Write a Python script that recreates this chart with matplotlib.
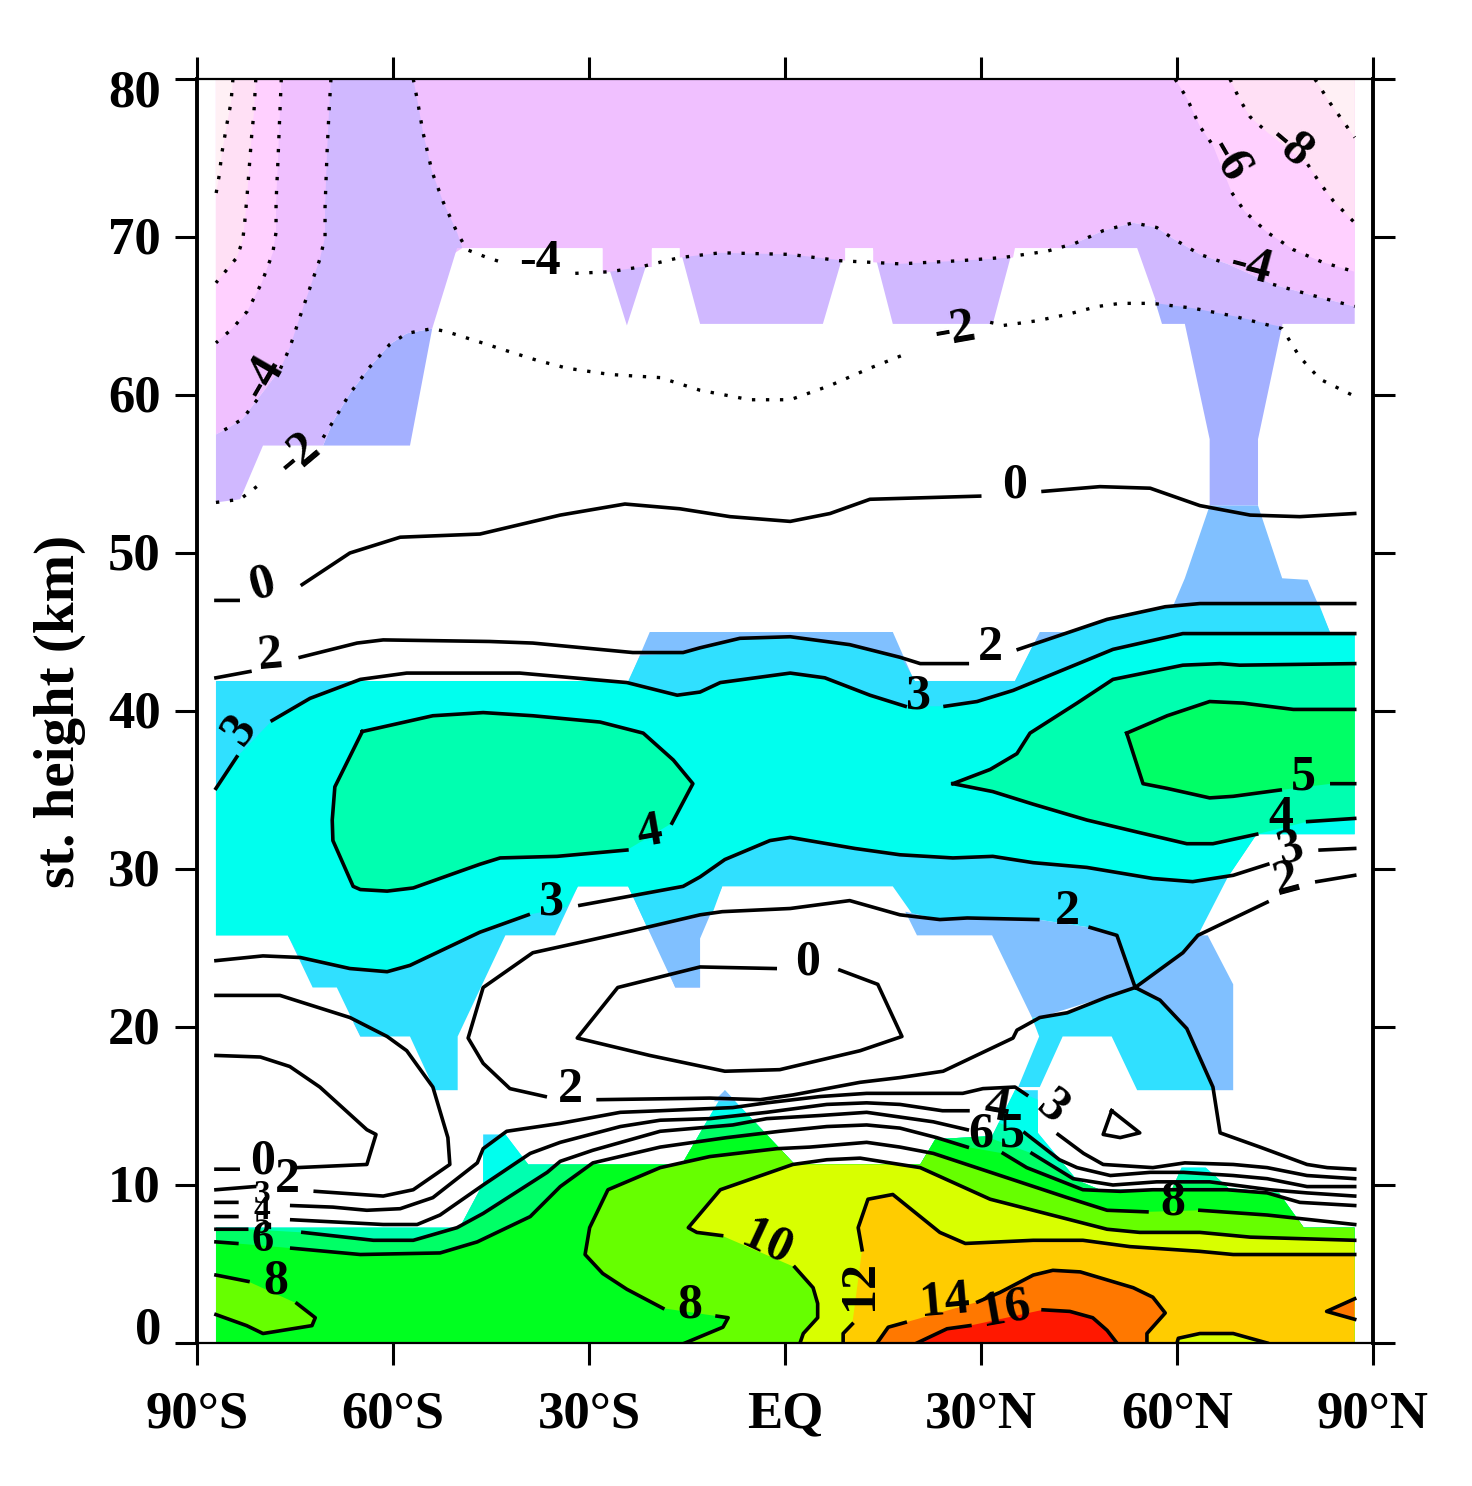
import numpy as np
import matplotlib
matplotlib.use("Agg")
import matplotlib.pyplot as plt
from matplotlib.patches import Polygon
from matplotlib.transforms import ScaledTranslation

nan = float("nan")
GAP = (nan, nan)
W, E = -87.1, 87.2

# ---------- axis content ----------
lat_ticks = [-90, -60, -30, 0, 30, 60, 90]
lat_labels = ["90°S", "60°S", "30°S", "EQ", "30°N", "60°N", "90°N"]
km_ticks = [0, 10, 20, 30, 40, 50, 60, 70, 80]

# ---------- isolines: (latitude, km) ----------
neg10_l = [(-84.5,80),(-84.8,78.5),(-85.4,77.2),(-86.2,75.3),(-86.6,73.9),(W,72.7)]
neg8_l = [(-81.0,80),(-81.3,77.8),(-81.6,76.6),(-82.0,74.4),(-82.3,72.8),(-82.7,70.9),(-83.0,69.8),(-83.9,68.7),(W,67.1)]
neg6_l = [(-77.1,80),(-77.4,77),(-77.6,74.9),(-77.9,72.2),(-77.9,70.3),(-78.4,69),(-80.1,67.1),(-82.3,65.3),(-84.6,64.2),(W,63.3)]
neg4_l = [(-69.5,80),(-69.8,77.9),(-70.1,75.3),(-70.4,71.9),(-70.4,70),(-71.2,68.6),(-72.7,66.8),(-74.2,65),(-75.8,63),(-77.3,61.6),GAP,
          (-80.8,59.7),(-83,58.5),(-84.9,58),(W,57.5)]
neg4_main = [(-56.9,80),(-56.2,78.5),(-55.4,76.6),(-54,74.1),(-52.3,72.2),(-50.2,70.3),(-48.7,69.2),(-45.6,68.7),(-42.6,68.3),GAP,
             (-32.1,67.7),(-26.8,67.8),(-22.2,68.1),(-16.1,68.7),(-9.9,69),(0.8,68.9),(8.4,68.5),(17.6,68.3),(26.8,68.5),(33.4,68.7),
             (40.1,69.1),(44.4,69.6),(48.7,70.4),(53.3,70.9),(56.9,70.6),(59.4,69.9),(63.5,68.9),(67.7,68.3),GAP,
             (74.7,67),(80.8,66.3),(E,65.6)]
neg2_main = [(W,53.2),(-83.4,53.4),(-79.6,54.6),GAP,
             (-70.7,57.3),(-69.2,58.3),(-66.6,60.1),(-63.5,61.8),(-60.5,63.2),(-57.9,63.9),(-54,64.2),(-51.7,64),(-47.1,63.4),(-42.6,62.8),
             (-38,62.2),(-33.4,61.7),(-26.8,61.3),(-19.1,61.1),(-13,60.3),(-5.4,59.7),(0.8,59.7),(6.9,60.6),(13,61.7),(19.1,62.7),GAP,
             (31.4,64.6),(33.4,64.4),(38.6,64.7),(43.2,65.1),(47.8,65.6),(51.3,65.8),(56.2,65.8),(62.4,65.5),(68.6,65),(76.1,64.2),
             (78.8,62.4),(81.9,61),(86.8,60)]
neg6_r = [(59.7,80),(61.5,78.8),(63.5,77),(65.5,75.8),GAP,(68.4,72.8),(70.4,71.6),(73.8,70.3),(77.8,69.2),(82.3,68.4),(E,67.8)]
neg8_r = [(68.1,80),(69.6,78.7),(71.2,77.6),(73.9,76.6),GAP,(80,74.6),(81.9,73.4),(83.9,72.3),(E,70.9)]
neg10_r = [(81.1,80),(83.4,78.5),(E,76.3)]

zero_top = [(W,47),(-83.7,47),GAP,(-73.9,48),(-66.6,50),(-58.9,51),(-46.7,51.2),(-34.4,52.4),(-24.5,53.1),(-16.1,52.8),(-8.4,52.3),(0.8,52),
            (6.9,52.5),(13,53.4),(29.8,53.6),GAP,(39.5,53.9),(48.2,54.2),(55.9,54.1),(63.5,53),(71.2,52.4),(78.8,52.3),(E,52.5)]
two_top = [(W,42.1),(-81.9,42.5),GAP,(-74.2,43.4),(-65.5,44.3),(-61.5,44.5),(-45.2,44.4),(-38.6,44.3),(-23.3,43.7),(-15.6,43.7),(-13,44),
           (-6.9,44.6),(0.8,44.7),(9.9,44.2),(17.6,43.4),(20.7,43),(27.9,43),GAP,(35.7,43.9),(49.3,45.8),(58.2,46.6),(63.5,46.8),(E,46.8)]
three_top = [(W,35.1),(-83.9,37.1),GAP,(-78.5,39.4),(-72.7,40.8),(-65,42),(-57.9,42.4),(-40.6,42.4),(-24.2,41.8),(-16.5,41),(-13,41.2),(-9.9,41.8),
             (0.8,42.4),(6.1,42.1),(13,41),(18.4,40.3),GAP,(24.5,40.3),(29.4,40.6),(34.9,41.3),(50.2,43.9),(60.9,44.9),(80.8,44.9),(E,44.9)]
four_left = [(-64.7,38.7),(-53.9,39.7),(-46.2,39.9),(-38.6,39.7),(-28.3,39.3),(-21.7,38.6),(-17.1,36.9),(-14.1,35.4),(-17.3,32.9),GAP,
             (-24.2,31.2),(-34.9,30.8),(-43.6,30.7),(-46.7,30.3),(-50.8,29.7),(-56.9,28.8),(-60.9,28.6),(-65,28.7),(-66.1,28.9),(-69.2,31.8),
             (-69.3,33.1),(-68.9,35.2),(-64.7,38.7)]
four_right_up = [(25.7,35.4),(31.4,36.3),(35.5,37.3),(37.5,38.6),(44.7,40.5),(50.2,42),(60.9,42.9),(66.6,43),(69.6,42.9),(E,43)]
four_right_lo = [(25.7,35.4),(31.8,34.9),(38,34.1),(46.2,33.1),(54.3,32.3),(61.5,31.6),(65.5,31.6),(72.2,32.2),GAP,(80,33),(E,33.2)]
five_right_up = [(52.3,38.6),(58.5,39.7),(65,40.6),(70.1,40.5),(77.8,40.1),(E,40.1)]
five_right_lo = [(52.3,38.6),(54.8,35.4),(58.5,35.1),(65,34.5),(68.6,34.6),(75.8,35),GAP,(83.7,35.4),(E,35.4)]
three_mid = [(W,24.2),(-79.9,24.5),(-74.2,24.4),(-66.6,23.7),(-60.9,23.5),(-57.4,23.9),(-46.7,26),(-39.3,27.1),GAP,
             (-31.4,27.7),(-15.6,28.9),(-13,29.5),(-9.2,30.6),(-2.3,31.8),(0.8,32),(10.7,31.3),(17.6,30.9),(25.7,30.7),(31.8,30.8),(38,30.4),
             (46.2,30.1),(56.3,29.4),(62.4,29.2),(68.6,29.6),(73.9,30.3),GAP,(81.9,31.2),(E,31.3)]
two_a = [(E,29.6),(81.4,29.2),GAP,(73.8,27.9),(63.2,25.8),(60.9,24.7),(53.6,22.5),(49.3,21.9),(43.2,20.9),(39,20.6),(35.5,19.8),(34.9,19.3),
         (24.2,17.2),(17.6,16.8),(11.5,16.5),(1.2,15.7),(-3.8,15.4),(-11.5,15.5),(-28.6,15.4),GAP,
         (-36.7,15.6),(-42.1,16.1),(-46.2,17.7),(-48.5,19.3),(-46.2,22.5),(-38.6,24.7),(-30.9,25.4),(-23.3,26.1),(-13,27.1),(-9.6,27.3),
         (0.8,27.5),(9.9,28),(17.6,27.1),(23.7,26.8),(27.9,26.9),(38.7,26.8),GAP,
         (46.7,26.3),(50.8,25.8),(53.6,22.5),(57.4,21.7),(61.5,19.9),(65.5,16.2),(66.6,13.3),(72.7,12.4),(79.9,11.3),(83,11.1),(E,11)]
zero_inner = [(8.4,23.6),(14.2,22.7),(17.9,19.4),(11.5,18.5),(-0.8,17.3),(-9.2,17.2),(-20.7,18.2),(-31.8,19.3),(-25.6,22.5),(-13,23.8),(-1.5,23.7)]
zero_left = [(W,18.2),(-80.3,18.1),(-75.8,17.5),(-71.2,16.2),(-64,13.5),(-62.6,13.2),(-64,11.3),(-74.7,11.1),GAP,(-83.7,11),(W,11)]
two_left = [(W,22),(-77.3,22),(-66.6,20.6),(-60.9,19.4),(-57.9,18.5),(-53.9,16.2),(-51.6,13),(-51.3,11.3),(-56.9,9.7),(-61.5,9.3),(-71.9,9.6),GAP,
            (-81.2,9.9),(W,9.7)]
three_low = [(W,8.9),(-83.9,8.9),GAP,(-75.5,8.7),(-69.2,8.6),(-64,8.4),(-58.9,8.5),(-53.9,9.2),(-47.1,11.4),(-46.2,12.3),(-42.6,13.4),(-34.4,13.9),
             (-25.2,14.6),(-19.1,14.7),(-8,14.9),(-2.8,15.2),(5.4,15.6),(12.5,15.8),(17.6,15.8),(27.2,15.8),(30.3,16.1),(35.2,16.2),(37,15.7),GAP,
             (41.8,13.2),(45.7,12),(48.7,11.3),(56.3,11.1),(61.2,11.4),(68.6,11.3),(73.8,11.1),(79.9,10.6),(E,10.4)]
four_low = [(W,8),(-83.9,8),GAP,(-75.5,7.8),(-66.1,7.6),(-61.5,7.5),(-56.3,7.5),(-52.8,8.1),(-46.2,10),(-39,12),(-34.4,12.7),(-25.2,13.7),(-19.1,14.1),
            (-11.5,14.2),(-2.8,14.6),(6.4,15.1),(12.5,15.2),(17.6,15.1),(24.1,14.7),(28,14.7),GAP,
            (36.7,13.3),(42,11.6),(44.7,11.1),(49.8,10.6),(55.9,10.8),(61,10.8),(68.6,10.6),(73.8,10.4),(79.9,9.9),(E,9.9)]
five_low = [(W,7.2),(-82.4,7.2),GAP,(-73.8,7),(-63,6.5),(-56.9,6.5),(-50.2,7.3),(-46.2,8.2),(-36.4,10.8),(-34.4,11.5),(-29.4,12.2),(-19.1,13.4),(-8,13.8),
            (-2.8,14.2),(5.4,14.4),(12.5,14.6),(17.6,14.3),(22.7,14),(27.9,13.5),GAP,
            (37.8,12),(44.1,10.4),(50.2,10),(56.9,10.2),(65,10.2),(74.2,9.7),(79.9,9.5),(E,9.3)]
six_low = [(W,6.4),(-83.9,6.3),GAP,(-75.5,6),(-65,5.6),(-52.8,5.7),(-47.1,6.4),(-39,8),(-34.4,9.9),(-29.4,11.4),(-19.1,12.4),(-8.9,13),(-0.8,13.4),
           (6.4,13.7),(12.5,13.8),(17.6,13.6),(23.2,13),(27.9,12.4),GAP,
           (33.4,12),(37,11.1),(45.6,9.7),(51.3,9.6),(56.3,9.7),(67.6,9.7),(73.8,9.5),(78.8,8.9),(E,8.7)]
eight_left = [(W,4.3),(-82.2,3.9),GAP,(-74.7,2.5),(-71.9,1.6),(-72.4,1.1),(-79.9,0.6),(-82.4,1.1),(W,1.8)]
eight_main = [(-15.3,0),(-9.5,1),(-8.7,1.6),(-10.4,1.7),GAP,(-18.7,2.2),(-24.2,3.4),(-27.9,4.4),(-30.6,5.6),(-29.9,7.3),(-27.1,9.7),(-19.1,11.1),(-11.5,11.8),
              (-1.2,12.3),(3.8,12.4),(12.5,12.7),(17.6,12.4),(22.7,12),(43.2,9.2),(49.3,8.4),(55.4,8.3),GAP,(63.5,8.4),(73.8,8.1),(E,7.5)]
ten_main = [(2.3,0),(2.8,0.6),(5,1.6),(5,2.5),(4.3,3.5),(1.5,4.8),GAP,(-9.7,6.8),(-13.5,7),(-14.8,7.3),(-9.9,9.7),(1.2,11.3),(6.4,11.6),(11.5,11.7),
            (17.6,11.3),(20.7,11.1),(31.4,9.1),(49.3,7.2),(54.3,7),(63.5,7),(71.2,6.7),(E,6.5)]
twelve_main = [(8.9,0),(8.9,0.6),(10.3,1.2),GAP,(11.8,5.9),(11.2,7.3),(12.7,9.1),(16.5,9.4),(23.7,7),(27.6,6.3),(38,6.5),(45.6,6.5),(52.8,6.1),(63.5,5.8),(68.6,5.6),(E,5.6)]
fourteen_main = [(14.1,0),(15.8,1),(18.4,1.3),GAP,(29.5,2.6),(32.9,3.2),(38,4.3),(41,4.6),(45.2,4.5),(53.3,3.5),(56.3,2.9),(58.2,1.9),(55.4,0.6),(55.4,0)]
sixteen_main = [(20.2,0),(24.8,0.9),(28.3,1.1),GAP,(39.5,2.1),(43.6,2),(47.1,1.6),(49.3,0.8),(50.8,0)]
twelve_inner = [(60,0),(60.2,0.3),(63.5,0.6),(68.6,0.6),(73.8,0)]
fourteen_edge = [(E,2.8),(82.9,2),(E,1.5)]
three_island = [(50,14.7),(54.3,13.3),(51.3,13),(48.7,13.2),(50,14.7)]

dotted_lines = [neg10_l, neg8_l, neg6_l, neg4_l, neg4_main, neg2_main, neg6_r, neg8_r, neg10_r]
solid_lines = [zero_top, two_top, three_top, four_left, four_right_up, four_right_lo, five_right_up, five_right_lo,
               three_mid, two_a, zero_inner, zero_left, two_left, three_low, four_low, five_low, six_low,
               eight_left, eight_main, ten_main, twelve_main, fourteen_main, sixteen_main, twelve_inner,
               fourteen_edge, three_island]

# ---------- shaded areas: (latitude, km) ----------
pink_main = [(W,80),(E,80),(E,65.6),(80.8,66.3),(74.7,67),(67.7,68.3),(63.5,68.9),(59.4,69.9),(56.9,70.6),(53.3,70.9),(48.7,70.4),(44.4,69.6),(42.1,69.3),
             (35.2,69.3),(34.9,68.7),(26.8,68.5),(17.6,68.3),(13.5,68.4),(13.5,69.3),(9.2,69.3),(9.2,68.5),(0.8,68.9),(-9.9,69),(-16.1,68.7),(-16.1,69.3),
             (-20.4,69.3),(-20.4,68.1),(-22.2,68.1),(-26.8,67.8),(-27.9,67.7),(-27.9,69.3),(-49.4,69.3),(-77.3,61.6),(-80.8,59.7),(-83,58.5),(-84.9,58),(W,57.5)]
purple_left = [(-69.5,80),(-56.9,80),(-56.2,78.5),(-55.4,76.6),(-54,74.1),(-52.3,72.2),(-50.2,70.3),(-49.4,69.3),(-50.2,69.3),(-54,64.2),(-57.9,63.9),(-60.5,63.2),
               (-63.5,61.8),(-66.6,60.1),(-69.2,58.3),(-70.7,56.8),(-79.9,56.8),(-83.4,53.4),(W,53.2),(W,57.5),(-84.9,58),(-83,58.5),(-80.8,59.7),(-77.3,61.6),
               (-75.8,63),(-74.2,65),(-72.7,66.8),(-71.2,68.6),(-70.4,70),(-70.4,71.9),(-70.1,75.3),(-69.8,77.9)]
purple_right = [(53.9,69.3),(56.9,65.8),(62.4,65.5),(68.6,65),(76.1,64.3),(76.1,64.5),(E,64.5),(E,65.6),(80.8,66.3),(74.7,67),(67.7,68.3),(63.5,68.9),(59.4,69.9),
                (56.9,70.6),(53.3,70.9),(48.7,70.4),(44.4,69.6),(42.1,69.3)]
purple_tri = [(-27.9,69.3),(-24.2,64.4),(-20.4,69.3)]
purple_trap1 = [(-16.1,69.3),(-13,64.5),(5.8,64.5),(9.2,69.3)]
purple_trap2 = [(13.5,69.3),(16.5,64.5),(31.8,64.5),(34.9,69.3)]
periwinkle_left = [(-70.7,56.8),(-69.2,58.3),(-66.6,60.1),(-63.5,61.8),(-60.5,63.2),(-57.9,63.9),(-54,64.2),(-57.4,56.8)]
periwinkle_funnel = [(56.6,66),(57.7,64.5),(61.2,64.5),(65,57.2),(65,53),(72.4,53),(72.4,57.2),(76.1,64.4),(76.1,66)]
periwinkle_small = [(-17.6,23.3),(-13,23.7),(-13,22.5),(-16.8,22.5)]
sky_a = [(-24,41.8),(-20.7,45),(16.5,45),(19.9,41.8)]
sky_b = [(35.2,41.9),(39,45),(57.7,45),(61.2,48.4),(65,53),(72.4,53),(76.1,48.4),(80,48.3),(83.4,45)]
sky_c = [(18.4,27.3),(20.2,25.8),(31.7,25.8),(37.8,20.6),(39,20.6),(53.6,22.5),(50.8,25.8),(46.7,26.3),(38.7,26.8),(27.9,26.9),(23.7,26.8)]
sky_d = [(53.6,22.5),(60.9,24.7),(63.2,25.8),(64.7,25.8),(68.6,22.7),(68.6,16),(65.8,16),(61.5,19.9),(57.4,21.7)]
sky_e = [(-66.1,20.3),(-65,19.4),(-60.9,19.4)]
sky_f = [(-24,28.9),(-16.8,22.5),(-13,22.5),(-13,25.6),(-9.6,28.9)]
sky_apex = [(-9.2,16),(-10.9,15.3),(-7.6,15.3)]
azure_main = [(W,41.9),(-24,41.9),(-22.2,43.5),(-15.6,43.7),(-13,44),(-6.9,44.6),(0.8,44.7),(9.9,44.2),(17.8,43.4),(19.9,41.9),(35.2,41.9),(38,44.2),(49.3,45.8),
              (58.2,46.6),(63.5,46.8),(81.7,46.8),(83.4,45),(E,45),(E,32.2),(72.2,32.2),(67.8,29.5),(63.2,25.8),(60.9,24.7),(53.6,22.5),(50.8,25.8),(46.7,26.3),
              (38.7,26.8),(27.9,26.9),(23.7,26.8),(19.4,27.2),(16.5,28.9),(-9.6,28.9),(-11.1,27.2),(-13,27.1),(-21.1,26.3),(-24,28.9),(-31.7,28.9),(-35.2,25.8),
              (-42.8,25.8),(-50.1,19.4),(-50.1,16),(-53.6,16),(-57.4,19.4),(-65,19.4),(-68.6,22.5),(-72.3,22.5),(-76.1,25.8),(W,25.8)]
azure_low = [(53.6,22.5),(57.4,21.7),(61.5,19.9),(65.5,16.2),(65.8,16),(53.9,16),(50,19.4),(42.5,19.4),(39,16.2),(35.7,16.2),(38.9,19.4),(37.8,20.6),(39,20.6),
             (43.2,20.9),(49.3,21.9)]
cyan_main = [(W,35.1),(-83.9,37.1),(-78.5,39.4),(-72.7,40.8),(-65,41.9),(-24.2,41.9),(-16.5,41),(-13,41.2),(-9.9,41.8),(0.8,42.4),(6.1,42.1),(13,41),(18.4,40.3),(24.5,40.3),
             (29.4,40.6),(34.9,41.3),(50.2,43.9),(60.9,44.9),(E,44.9),(E,32.2),(72.2,32.2),(67.8,29.5),(62.4,29.2),(56.3,29.4),(46.2,30.1),(38,30.4),(31.8,30.8),(25.7,30.7),
             (17.6,30.9),(10.7,31.3),(0.8,32),(-2.3,31.8),(-9.2,30.6),(-13,29.5),(-15.6,28.9),(-23.3,28.3),(-24,28.9),(-31.7,28.9),(-33.4,27.6),(-39.3,27.1),(-46.7,26),
             (-57.4,23.9),(-60.9,23.5),(-66.6,23.7),(-74.2,24.4),(-76.1,25.8),(W,25.8)]
cyan_wedge = [(35.2,16),(37,15.7),(38.7,15.4),(38.7,13),(34,13)]
tropo_envelope = [(W,0),(W,7.3),(-49.8,7.3),(-46.2,10.1),(-46.2,13.2),(-42.8,13.2),(-39.3,11.3),(-15.8,11.3),(-9.2,16),(1.5,11.3),(20.7,11.3),(23,12.9),(31.7,13.1),(35.2,16),
                  (38.7,16),(38.7,13.3),(44.7,10.3),(48.2,9.7),(59.2,9.7),(60.7,11.1),(64.4,11.1),(67.9,9.8),(75.6,9.5),(79.4,7.3),(E,7.3),(E,0)]

# ---------- labels on the isolines: text, latitude, km, angle, size ----------
iso_labels = [("-4",-79.9,61.1,60,36),("-2",-74.5,56.2,40,36),("-4",-37.5,68.4,0,36),("-6",67.8,74.9,-60,36),("-8",77.3,75.8,-40,36),("-4",71.2,68.1,-15,36),("-2",26,64.1,10,36),
              ("0",-80,48,15,36),("0",35.2,54.3,0,36),("2",-78.8,43.5,5,36),("2",31.4,44,0,36),("3",-83.4,38.8,55,36),("3",20.4,40.9,0,36),("4",-20.7,32.3,10,36),("5",79.4,35.8,0,36),
              ("4",75.9,33.2,0,36),("3",77.4,31.3,15,36),("2",76.8,29.3,15,36),("3",-35.7,27.9,0,36),("2",43.2,27.3,0,36),("0",3.5,24.1,0,36),("2",-32.9,16,0,36),("0",-79.9,11.5,0,36),
              ("2",-76.1,10.3,0,36),("3",-80,9.4,0,24),("4",-80,8.4,0,24),("5",-80,7.5,0,24),("6",-79.9,6.5,0,32),("8",-78,3.9,0,36),("8",-14.5,2.4,0,36),("8",59.4,8.9,0,36),
              ("10",-2.8,6.3,-25,36),("12",11.5,3.7,90,36),("14",24.5,2.6,5,36),("16",33.7,2.1,10,36),("4",32.4,14.9,-10,36),("3",41,14.9,-40,36),("6",29.9,13.2,0,36),("5",34.8,13.2,0,36)]

# ---------- colours ----------
C_PALE, C_PALE2, C_LILAC = "#FFF0F5", "#FFE0F5", "#FFD0FF"
C_PINK, C_PURPLE, C_PERI, C_SKY = "#F0C0FF", "#D0B8FF", "#A4B0FF", "#80C0FF"
C_AZURE, C_CYAN, C_4, C_5, C_6 = "#30E0FF", "#00FFEE", "#00FFB0", "#00FF66", "#00FF20"
C_8, C_10, C_12, C_14, C_16 = "#66FF00", "#D8FF00", "#FFCC00", "#FF7800", "#FF1800"

plt.rcParams["font.family"] = ["Liberation Serif", "DejaVu Serif"]
plt.rcParams["font.weight"] = "bold"

fig = plt.figure(figsize=(14.72, 14.86), dpi=100)
ax = fig.add_axes([197/1472, (1486-1343)/1486, 1176/1472, 1264/1486])
ax.set_xlim(-90, 90)
ax.set_ylim(0, 80)


def solid(points):
    return [p for p in points if p[0] == p[0]]


def shade(points, color, clip=None):
    pts = np.array(solid(points))
    patch = ax.fill(pts[:, 0], pts[:, 1], color=color, lw=0, zorder=1)[0]
    if clip is not None:
        patch.set_clip_path(clip)


# stratosphere and mesosphere
shade(periwinkle_left, C_PERI)
shade(periwinkle_funnel, C_PERI)
shade(periwinkle_small, C_PERI)
for poly in (purple_tri, purple_trap1, purple_trap2):
    shade(poly, C_PURPLE)
shade(pink_main, C_PINK)
shade(neg6_l + [(W, 80)], C_LILAC)
shade(neg6_r + [(E, 80)], C_LILAC)
shade(neg8_l + [(W, 80)], C_PALE2)
shade(neg8_r + [(E, 80)], C_PALE2)
shade(neg10_l + [(W, 80)], C_PALE)
shade(neg10_r + [(E, 80)], C_PALE)
shade(purple_left, C_PURPLE)
shade(purple_right, C_PURPLE)
for poly in (sky_a, sky_b, sky_c, sky_d, sky_e, sky_f):
    shade(poly, C_SKY)
shade(azure_main, C_AZURE)
shade(azure_low, C_AZURE)
shade(cyan_main, C_CYAN)
shade(four_left, C_4)
shade(solid(four_right_up) + solid(four_right_lo)[::-1], C_4)
shade(solid(five_right_up) + solid(five_right_lo)[::-1], C_5)

# troposphere: bands below each isoline, kept inside the shaded envelope
env = Polygon(np.array(tropo_envelope), closed=True, transform=ax.transData, fc="none", ec="none")
ax.add_patch(env)
bottom = [(E, 0), (W, 0)]
shade(tropo_envelope, C_AZURE)
shade(sky_apex, C_SKY)
shade(three_low + bottom, C_CYAN, env)
shade(cyan_wedge, C_CYAN, env)
shade(four_low + bottom, C_4, env)
shade(five_low + bottom, C_5, env)
shade(six_low + bottom, C_6, env)
shade(eight_left, C_8, env)
shade(eight_main + [(E, 0)], C_8, env)
shade(ten_main + [(E, 0)], C_10, env)
shade(twelve_main + [(E, 0)], C_12, env)
shade(twelve_inner, C_10, env)
shade(fourteen_main, C_14, env)
shade(fourteen_edge, C_14, env)
shade(sixteen_main, C_16, env)

for line in dotted_lines:
    a = np.array(line)
    ax.plot(a[:, 0], a[:, 1], color="black", lw=2.4, ls=(0, (1, 3.2)), zorder=3)
for line in solid_lines:
    a = np.array(line)
    ax.plot(a[:, 0], a[:, 1], color="black", lw=2.6, zorder=3)

for text, lat, km, angle, size in iso_labels:
    ax.text(lat, km, text, fontsize=size, fontweight="bold", ha="center", va="center",
            rotation=angle, rotation_mode="anchor", zorder=4, color="black")

ax.set_xticks(lat_ticks)
ax.set_xticklabels(lat_labels, fontsize=38, fontweight="bold")
ax.set_yticks(km_ticks)
ax.set_yticklabels([str(k) for k in km_ticks], fontsize=38, fontweight="bold")
ax.tick_params(axis="both", length=16, width=2.2, top=True, right=True, direction="out")
ax.tick_params(axis="x", pad=18)
ax.tick_params(axis="y", pad=10)
ylabels = ax.get_yticklabels()
for i, lab in enumerate(ylabels):
    shift_px = 18 if i == 0 else (-9 if i == len(ylabels) - 1 else 2)
    lab.set_transform(lab.get_transform() + ScaledTranslation(0, shift_px / 100, fig.dpi_scale_trans))
for side, width in (("left", 2.8), ("right", 2.8), ("top", 1.6), ("bottom", 1.6)):
    ax.spines[side].set_linewidth(width)
ax.set_ylabel("st. height (km)", fontsize=41, fontweight="bold", va="center")
ax.yaxis.set_label_coords(-0.1165, 0.5)

fig.savefig("out.png", dpi=100)
